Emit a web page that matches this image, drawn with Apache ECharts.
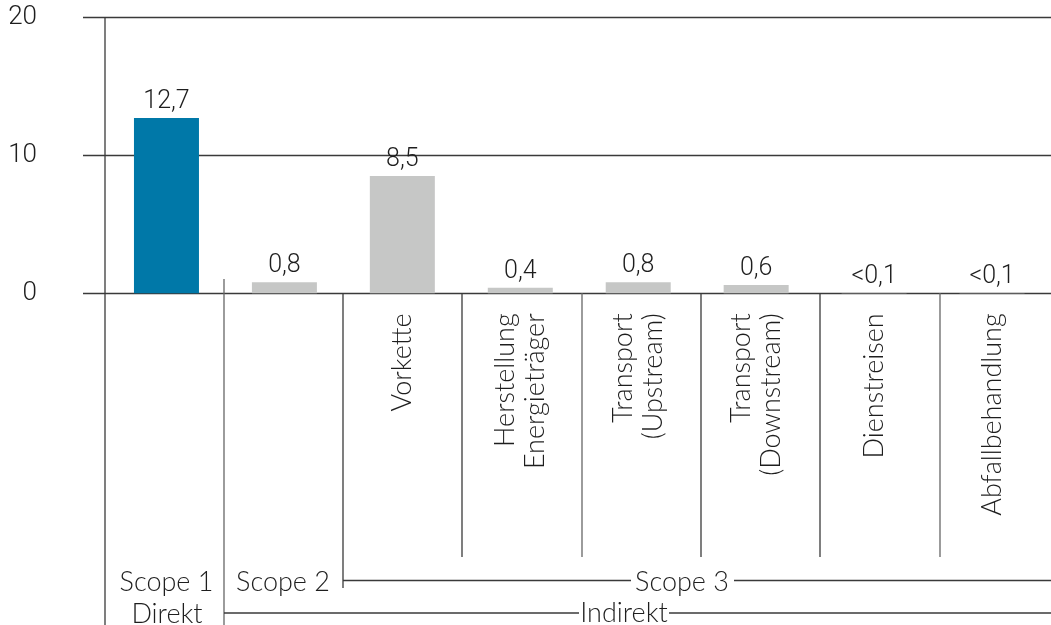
<!DOCTYPE html>
<html>
<head>
<meta charset="utf-8">
<script src="https://cdn.jsdelivr.net/npm/echarts@6/dist/echarts.min.js"></script>
<style>
html,body{margin:0;padding:0;background:#fff;}
#chart{width:1051px;height:625px;}
</style>
</head>
<body>
<div id="chart"></div>
<script>
const categories = ["", "", "Vorkette", "Herstellung\nEnergieträger", "Transport\n(Upstream)", "Transport\n(Downstream)", "Dienstreisen", "Abfallbehandlung"];
const values = [12.7, 0.8, 8.5, 0.4, 0.8, 0.6, 0.03, 0.03];
const valueLabels = ["12,7", "0,8", "8,5", "0,4", "0,8", "0,6", "<0,1", "<0,1"];
const yTicks = [0, 10, 20];
const groupLabels = ["Scope 1", "Direkt", "Scope 2", "Scope 3", "Indirekt"];

const BLUE = "#0078A8", GREY = "#C6C7C6", LINE = "#3a3a3a", TXT = "#1e1e1e";
const FONT = "Lato, 'Open Sans', sans-serif";
const NUMFONT = "Roboto, sans-serif";

const chart = echarts.init(document.getElementById('chart'), null, {renderer: 'canvas'});

function vline(x, y1, y2, color) {
  return {type: 'line', shape: {x1: x, y1: y1, x2: x, y2: y2}, style: {stroke: color || LINE, lineWidth: 1.3}, z: 10};
}
function hline(y, x1, x2) {
  return {type: 'line', shape: {x1: x1, y1: y, x2: x2, y2: y}, style: {stroke: LINE, lineWidth: 1.3}, z: 10};
}
function txt(s, x, y) {
  return {type: 'text', x: x, y: y, style: {text: s, fill: TXT, font: "300 27px " + FONT, align: 'center', verticalAlign: 'middle'}, z: 10};
}

const option = {
  animation: false,
  backgroundColor: '#fff',
  grid: [
    {left: 83, right: 0, top: 17.3, bottom: 331.7},
    {left: 107.5, right: -0.5, top: 17.3, bottom: 331.7}
  ],
  xAxis: [
    {gridIndex: 0, type: 'category', data: categories, show: false},
    {gridIndex: 1, type: 'category', data: categories,
      axisLine: {show: false}, axisTick: {show: false},
      axisLabel: {interval: 0, rotate: 90, margin: 20, fontSize: 27, fontFamily: FONT, fontWeight: 300,
        color: TXT, lineHeight: 30}
    }
  ],
  yAxis: [
    {gridIndex: 0, type: 'value', min: 0, max: 20, interval: 10,
      axisLine: {show: false}, axisTick: {show: false},
      splitLine: {lineStyle: {color: LINE, width: 1.3}},
      axisLabel: {margin: 46, fontSize: 26, fontFamily: NUMFONT, fontWeight: 300, color: TXT, padding: [4, 0, 0, 0],
        formatter: function (v) { return yTicks.indexOf(v) >= 0 ? String(v) : ''; }}
    },
    {gridIndex: 1, type: 'value', min: 0, max: 20, interval: 10, show: false}
  ],
  series: [{
    type: 'bar', xAxisIndex: 1, yAxisIndex: 1, barWidth: 65, z: 5,
    data: values.map(function (v, i) {
      return {value: v, itemStyle: {color: i === 0 ? BLUE : GREY}};
    }),
    label: {show: true, position: 'top', distance: 4, fontSize: 25, fontFamily: NUMFONT, fontWeight: 300, color: TXT,
      formatter: function (p) { return valueLabels[p.dataIndex]; }}
  }],
  graphic: [
    vline(105, 17, 625),
    vline(224, 279, 625, '#666'),
    vline(343, 293, 588),
    vline(462, 293, 557),
    vline(582, 293, 557, '#666'),
    vline(701, 293, 557),
    vline(820, 293, 557),
    vline(940, 293, 557, '#666'),
    hline(580.5, 343, 631), hline(580.5, 734, 1051),
    hline(613, 224, 579), hline(613, 669, 1051),
    txt(groupLabels[0], 166.5, 582),
    txt(groupLabels[1], 167, 614),
    txt(groupLabels[2], 283, 582),
    txt(groupLabels[3], 682, 582),
    txt(groupLabels[4], 624, 613)
  ]
};
chart.setOption(option);
</script>
</body>
</html>
